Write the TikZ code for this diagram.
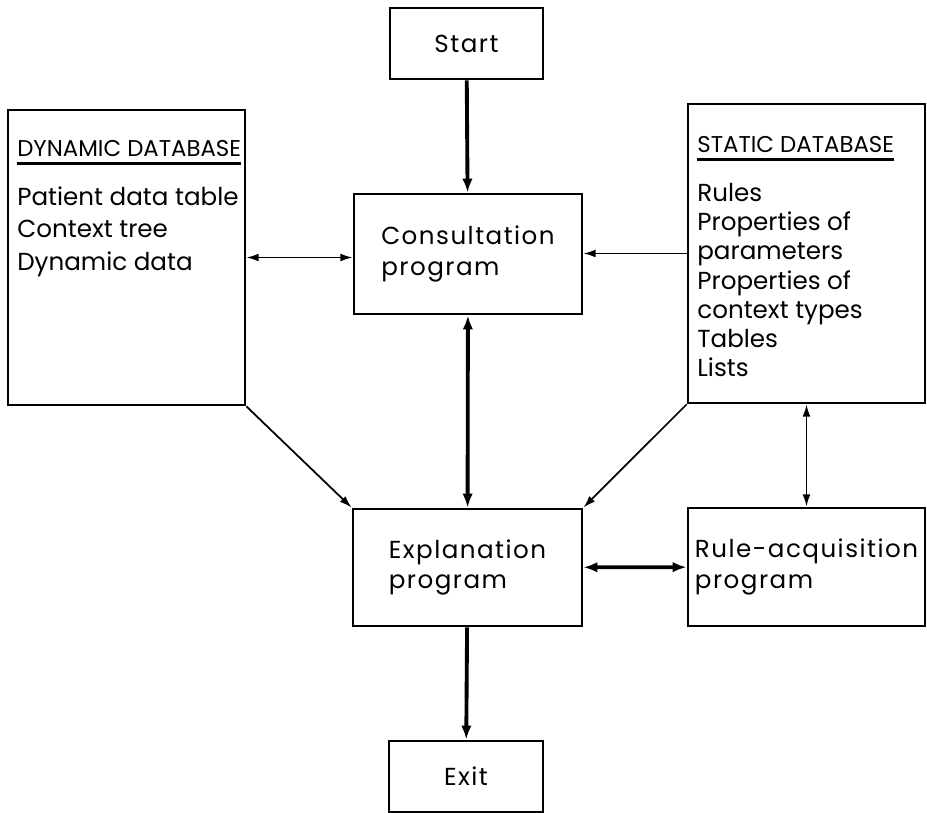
\documentclass[tikz,border=0pt]{standalone}
\usepackage{fontspec}
\setmainfont{Poppins}
\newfontfamily\progfont[LetterSpace=6]{Poppins}
\usetikzlibrary{arrows.meta}
\tikzset{
  >={Latex[length=7pt,width=4.5pt]},
  box/.style={draw, line width=1.6pt, inner sep=0pt, align=left,
    font=\progfont\fontsize{14}{17.6}\selectfont},
  dbtitle/.style={anchor=base west, inner xsep=0pt, inner ysep=3.4pt,
    font=\fontsize{13}{15}\selectfont},
  dblist/.style={anchor=north west, inner sep=0pt, align=left},
  flow/.style={line width=1pt},
  mainflow/.style={line width=2.2pt, >={Latex[length=8pt,width=6pt]}}
}

\begin{document}
\begin{tikzpicture}[x=0.02cm, y=-0.02cm]
\useasboundingbox (0,0) rectangle (927,813);

% the program boxes
\node[box, minimum width=3.06cm, minimum height=1.42cm] (start) at (466.5,43.5) {Start};
\node[box, minimum width=4.56cm, minimum height=2.40cm] (consult) at (468,254) {Consultation\\program};
\node[box, minimum width=4.58cm, minimum height=2.34cm] (expl) at (467.5,567.5) {Explanation\\program};
\node[box, minimum width=4.74cm, minimum height=2.36cm] (rule) at (806.5,567) {Rule-acquisition\\program};
\node[box, minimum width=3.08cm, minimum height=1.42cm] (exit) at (466,776.5) {Exit};

% the two databases
\node[box, minimum width=4.74cm, minimum height=5.90cm] (dyn) at (126.5,257.5) {};
\node[dbtitle] (dyntitle) at (17,157) {DYNAMIC DATABASE};
\draw[line width=1.2pt] (dyntitle.south west) -- (dyntitle.south east);
\node[dblist, font=\fontsize{14}{18.5}\selectfont] (dynlist) at (17,186)
  {Patient data table\\Context tree\\Dynamic data};

\node[box, minimum width=4.74cm, minimum height=5.98cm] (static) at (806.5,253.5) {};
\node[dbtitle] (stattitle) at (697,153) {STATIC DATABASE};
\draw[line width=1.2pt] (stattitle.south west) -- (stattitle.south east);
\node[dblist, font=\fontsize{14}{16.6}\selectfont] (statlist) at (697,183)
  {Rules\\Properties of\\parameters\\Properties of\\context types\\Tables\\Lists};

% connectors
\draw[mainflow, ->] (start) -- (consult);
\draw[flow, <->] (dyn.east) -- (dyn.east -| consult.west);
\draw[flow, ->] (static.west) -- (static.west -| consult.east);
\draw[mainflow, <->] (consult) -- (expl);
\draw[flow, ->] (dyn.south east) -- (expl.north west);
\draw[flow, ->] (static.south west) -- (expl.north east);
\draw[flow, <->] (static) -- (rule);
\draw[mainflow, <->] (expl) -- (rule);
\draw[mainflow, ->] (expl) -- (exit);

\end{tikzpicture}
\end{document}
